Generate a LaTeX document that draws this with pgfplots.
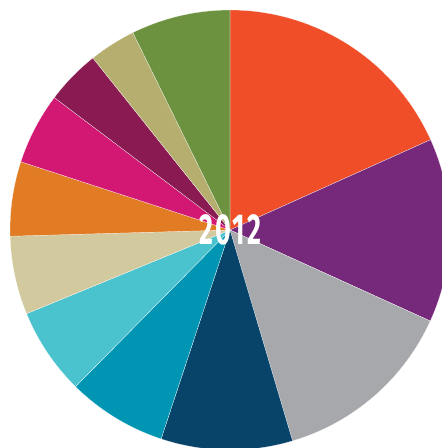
\documentclass[border=0pt]{standalone}
\usepackage{graphicx}
\usepackage{pgfplots}
\usepackage{pgfplotstable}
\pgfplotsset{compat=1.18}
\usepackage{fontspec}
\setmainfont{Fira Sans}
\newfontfamily\yearfont[LetterSpace=8]{Fira Sans}
\definecolor{c1}{HTML}{F04E28}
\definecolor{c2}{HTML}{76287A}
\definecolor{c3}{HTML}{A7A8AB}
\definecolor{c4}{HTML}{08436A}
\definecolor{c5}{HTML}{0095B3}
\definecolor{c6}{HTML}{4AC3CE}
\definecolor{c7}{HTML}{D3C99E}
\definecolor{c8}{HTML}{E17C25}
\definecolor{c9}{HTML}{D31874}
\definecolor{c10}{HTML}{891A52}
\definecolor{c11}{HTML}{B5AE6F}
\definecolor{c12}{HTML}{6C923F}
\pgfplotstableread{
val col
18.27 c1
13.52 c2
13.62 c3
9.66 c4
7.32 c5
6.40 c6
5.76 c7
5.47 c8
5.26 c9
4.01 c10
3.43 c11
7.28 c12
}\piedata
\begin{document}
\begin{tikzpicture}
\begin{axis}[x=1bp,y=1bp,xmin=-230,xmax=212,ymin=-218,ymax=230,hide axis,clip=true]
\path (rel axis cs:0,0) rectangle (rel axis cs:1,1);
\gdef\cum{0}
\pgfplotsinvokeforeach{0,...,11}{
  \pgfplotstablegetelem{#1}{val}\of\piedata
  \let\v\pgfplotsretval
  \pgfplotstablegetelem{#1}{col}\of\piedata
  \let\c\pgfplotsretval
  \pgfmathsetmacro{\a}{90-3.6*\cum}
  \pgfmathsetmacro{\b}{90-3.6*(\cum+\v)}
  \pgfmathsetmacro{\xa}{220*cos(\a)}
  \pgfmathsetmacro{\ya}{220*sin(\a)}
  \edef\temp{\noexpand\fill[\c,draw=white,line width=0.2bp,line join=round] (axis cs:0,0) -- (axis cs:\xa,\ya) arc[start angle=\a, end angle=\b, radius=220bp] -- cycle;}
  \temp
  \pgfmathparse{\cum+\v}\xdef\cum{\pgfmathresult}
}
\node[white,inner sep=0pt] at (axis cs:0.5,0) {\scalebox{0.62}[1]{\fontsize{43.5}{43.5}\selectfont\yearfont\bfseries 2012}};
\end{axis}
\end{tikzpicture}
\end{document}
